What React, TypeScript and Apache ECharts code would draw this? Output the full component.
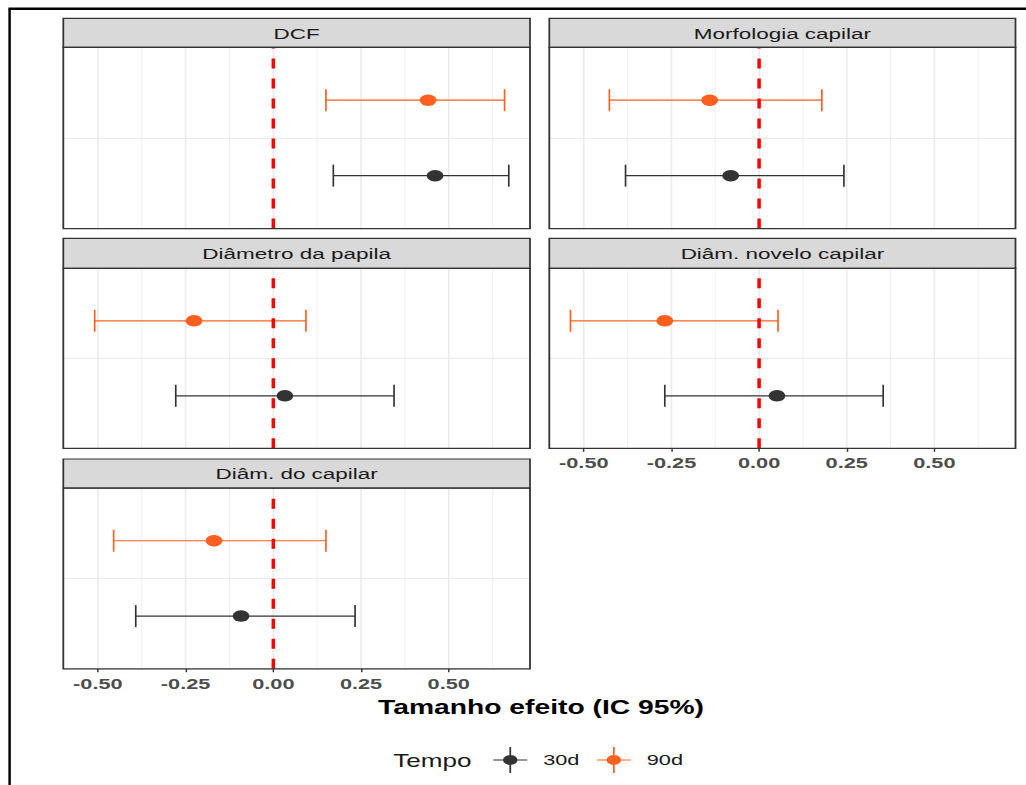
import React, { useEffect, useRef } from "react";
import * as echarts from "echarts";

// The reference image is a horizontally stretched figure; the chart is drawn
// in an unstretched space and stretched with a CSS transform.
const S = 1.45;
const W = 1026 / S;
const H = 785;
const X = (v: number) => v / S;

const FONT = "'Liberation Sans', Arial, Helvetica, sans-serif";

// ---- data ----
const PANELS = [
  "DCF",
  "Morfologia capilar",
  "Diâmetro da papila",
  "Diâm. novelo capilar",
  "Diâm. do capilar",
];
const TIMES = ["30d", "90d"];

const EST_30 = [0.461, -0.081, 0.033, 0.051, -0.092];
const LO_30 = [0.171, -0.381, -0.278, -0.269, -0.392];
const HI_30 = [0.671, 0.242, 0.344, 0.354, 0.233];

const EST_90 = [0.441, -0.141, -0.226, -0.269, -0.169];
const LO_90 = [0.15, -0.427, -0.509, -0.538, -0.455];
const HI_90 = [0.659, 0.179, 0.093, 0.054, 0.15];

const X_TICKS = [-0.5, -0.25, 0, 0.25, 0.5];
const X_MINOR = [-0.375, -0.125, 0.125, 0.375, 0.625];

// discrete y: one category at the centre, the two times dodged around it
const Y_MIN = 0;
const Y_MAX = 1.2;
const Y_CENTER = 0.6;
const DODGE = 0.25;

const COLORS: Record<string, string> = { "30d": "#333333", "90d": "#FF5F1F" };

// ---- layout (reference pixels) ----
const COLS = [
  [63.3, 530],
  [549.3, 1015.5],
];
const ROWS = [
  { strip: 18.3, top: 47.3, bottom: 228.5 },
  { strip: 238.3, top: 268.3, bottom: 448.3 },
  { strip: 459, top: 488, bottom: 668.8 },
];

const ICON =
  "path://M0,12.4H23.4V13.6H0Z M11.1,0H12.3V26H11.1Z M6.7,13a5,5 0 1,1 10,0a5,5 0 1,1 -10,0Z";

export default function App() {
  const ref = useRef<HTMLDivElement>(null);

  useEffect(() => {
    if (!ref.current) return;
    const chart = echarts.init(ref.current, null, { renderer: "svg" });

    const all = [...LO_30, ...HI_30, ...LO_90, ...HI_90, ...EST_30, ...EST_90];
    const dMin = Math.min(...all);
    const dMax = Math.max(...all);
    const pad = (dMax - dMin) * 0.05;
    const xMin = dMin - pad;
    const xMax = dMax + pad;

    const n = PANELS.length;
    const grids: any[] = [];
    const xAxes: any[] = [];
    const yAxes: any[] = [];
    const series: any[] = [];
    const graphics: any[] = [];

    const lastRowOfCol = (c: number) => {
      let r = 0;
      for (let i = 0; i < n; i++) if (i % 2 === c) r = Math.floor(i / 2);
      return r;
    };

    PANELS.forEach((name, i) => {
      const r = Math.floor(i / 2);
      const c = i % 2;
      const [x0, x1] = COLS[c];
      const row = ROWS[r];
      const isBottom = r === lastRowOfCol(c);

      grids.push({
        left: X(x0),
        width: X(x1 - x0),
        top: row.top,
        height: row.bottom - row.top,
        containLabel: false,
      });
      xAxes.push({
        gridIndex: i,
        type: "value",
        min: xMin,
        max: xMax,
        axisLine: { show: false },
        splitLine: { show: false },
        axisTick: {
          show: isBottom,
          customValues: X_TICKS,
          length: 3.5,
          lineStyle: { color: "#333333", width: 1 },
        },
        axisLabel: {
          show: isBottom,
          customValues: X_TICKS,
          formatter: (v: number) => v.toFixed(2),
          fontFamily: FONT,
          fontSize: 15,
          fontWeight: "bold",
          color: "#4D4D4D",
          margin: 7,
        },
      });
      yAxes.push({
        gridIndex: i,
        type: "value",
        min: Y_MIN,
        max: Y_MAX,
        interval: Y_CENTER,
        axisLine: { show: false },
        axisTick: { show: false },
        axisLabel: { show: false },
        splitLine: { show: true, lineStyle: { color: "#EBEBEB", width: 1.2 } },
      });

      const vline = (vals: number[], width: number, sname: string) => ({
        type: "custom",
        name: sname,
        xAxisIndex: i,
        yAxisIndex: i,
        silent: true,
        z: 1,
        encode: { x: 0, y: 1 },
        data: vals.map((v) => [v, Y_CENTER]),
        renderItem: (params: any, api: any) => {
          const cs = params.coordSys;
          const x = api.coord([api.value(0), Y_CENTER])[0];
          return {
            type: "line",
            shape: { x1: x, y1: cs.y, x2: x, y2: cs.y + cs.height },
            style: { stroke: "#EBEBEB", lineWidth: width },
          };
        },
      });
      series.push(vline(X_MINOR, 0.6, "minor" + i));
      series.push(vline(X_TICKS, 1.1, "major" + i));

      TIMES.forEach((t) => {
        const est = t === "30d" ? EST_30 : EST_90;
        const lo = t === "30d" ? LO_30 : LO_90;
        const hi = t === "30d" ? HI_30 : HI_90;
        const y = Y_CENTER + (t === "30d" ? -DODGE : DODGE);
        const color = COLORS[t];
        series.push({
          type: "custom",
          name: t,
          xAxisIndex: i,
          yAxisIndex: i,
          z: 3,
          itemStyle: { color },
          encode: { x: [0, 1], y: 2 },
          data: [[lo[i], hi[i], y]],
          renderItem: (params: any, api: any) => {
            const a = api.coord([api.value(0), api.value(2)]);
            const b = api.coord([api.value(1), api.value(2)]);
            const cap = 11;
            const style = { stroke: color, lineWidth: 1.15, fill: "none" };
            return {
              type: "group",
              children: [
                { type: "line", shape: { x1: a[0], y1: a[1], x2: b[0], y2: b[1] }, style },
                { type: "line", shape: { x1: a[0], y1: a[1] - cap, x2: a[0], y2: a[1] + cap }, style },
                { type: "line", shape: { x1: b[0], y1: b[1] - cap, x2: b[0], y2: b[1] + cap }, style },
              ],
            };
          },
        });
        series.push({
          type: "scatter",
          name: t,
          xAxisIndex: i,
          yAxisIndex: i,
          z: 4,
          symbol: "circle",
          symbolSize: 11.5,
          itemStyle: { color, opacity: 1 },
          data: [[est[i], y]],
        });
      });

      series.push({
        type: "custom",
        name: "zero" + i,
        xAxisIndex: i,
        yAxisIndex: i,
        silent: true,
        z: 5,
        encode: { x: 0, y: 1 },
        data: [[0, Y_CENTER]],
        renderItem: (params: any, api: any) => {
          const cs = params.coordSys;
          const x = api.coord([api.value(0), Y_CENTER])[0];
          return {
            type: "line",
            shape: { x1: x, y1: cs.y + cs.height, x2: x, y2: cs.y },
            style: { stroke: "#FF0000", lineWidth: 2.4, lineDash: [10, 10] },
          };
        },
      });

      // strip
      graphics.push({
        type: "rect",
        z: 100,
        shape: { x: X(x0), y: row.strip, width: X(x1 - x0), height: row.top - row.strip },
        style: { fill: "#D9D9D9", stroke: "#333333", lineWidth: 1.2 },
      });
      graphics.push({
        type: "text",
        z: 101,
        x: X((x0 + x1) / 2),
        y: (row.strip + row.top) / 2 + 0.5,
        style: {
          text: name,
          fill: "#1A1A1A",
          fontSize: 15.5,
          fontFamily: FONT,
          align: "center",
          verticalAlign: "middle",
          textAlign: "center",
          textVerticalAlign: "middle",
        },
      });
      // panel border
      graphics.push({
        type: "rect",
        z: 100,
        shape: { x: X(x0), y: row.top, width: X(x1 - x0), height: row.bottom - row.top },
        style: { fill: "transparent", stroke: "#333333", lineWidth: 1.25 },
      });
    });

    graphics.push({
      type: "text",
      z: 101,
      x: X(541),
      y: 707.5,
      style: {
        text: "Tamanho efeito (IC 95%)",
        fill: "#000000",
        fontSize: 19.5,
        fontWeight: "bold",
        fontFamily: FONT,
        align: "center",
        verticalAlign: "middle",
        textAlign: "center",
        textVerticalAlign: "middle",
      },
    });
    graphics.push({
      type: "text",
      z: 101,
      x: X(393.3),
      y: 760.5,
      style: {
        text: "Tempo",
        fill: "#1A1A1A",
        fontSize: 18,
        fontFamily: FONT,
        align: "left",
        verticalAlign: "middle",
        textAlign: "left",
        textVerticalAlign: "middle",
      },
    });
    // outer frame (left and top edges)
    graphics.push({
      type: "line",
      z: 102,
      shape: { x1: X(9.6), y1: 8.7, x2: X(9.6), y2: H },
      style: { stroke: "#000000", lineWidth: 1.7 },
    });
    graphics.push({
      type: "line",
      z: 102,
      shape: { x1: X(8.4), y1: 8.7, x2: W, y2: 8.7 },
      style: { stroke: "#000000", lineWidth: 2.4 },
    });

    chart.setOption({
      animation: false,
      backgroundColor: "#FFFFFF",
      grid: grids,
      xAxis: xAxes,
      yAxis: yAxes,
      series,
      graphic: { elements: graphics },
      legend: {
        data: TIMES,
        left: X(493.3),
        top: 747,
        padding: 0,
        orient: "horizontal",
        itemWidth: 23.4,
        itemHeight: 26,
        itemGap: 12,
        icon: ICON,
        selectedMode: false,
        textStyle: {
          fontSize: 15,
          color: "#1A1A1A",
          fontFamily: FONT,
          padding: [0, 0, 0, 6],
        },
      },
    });

    return () => chart.dispose();
  }, []);

  return (
    <div
      style={{
        position: "absolute",
        left: 0,
        top: 0,
        width: 1026,
        height: 785,
        overflow: "hidden",
        background: "#FFFFFF",
      }}
    >
      <div
        ref={ref}
        style={{
          width: W,
          height: H,
          transform: `scaleX(${S})`,
          transformOrigin: "0 0",
        }}
      />
    </div>
  );
}
